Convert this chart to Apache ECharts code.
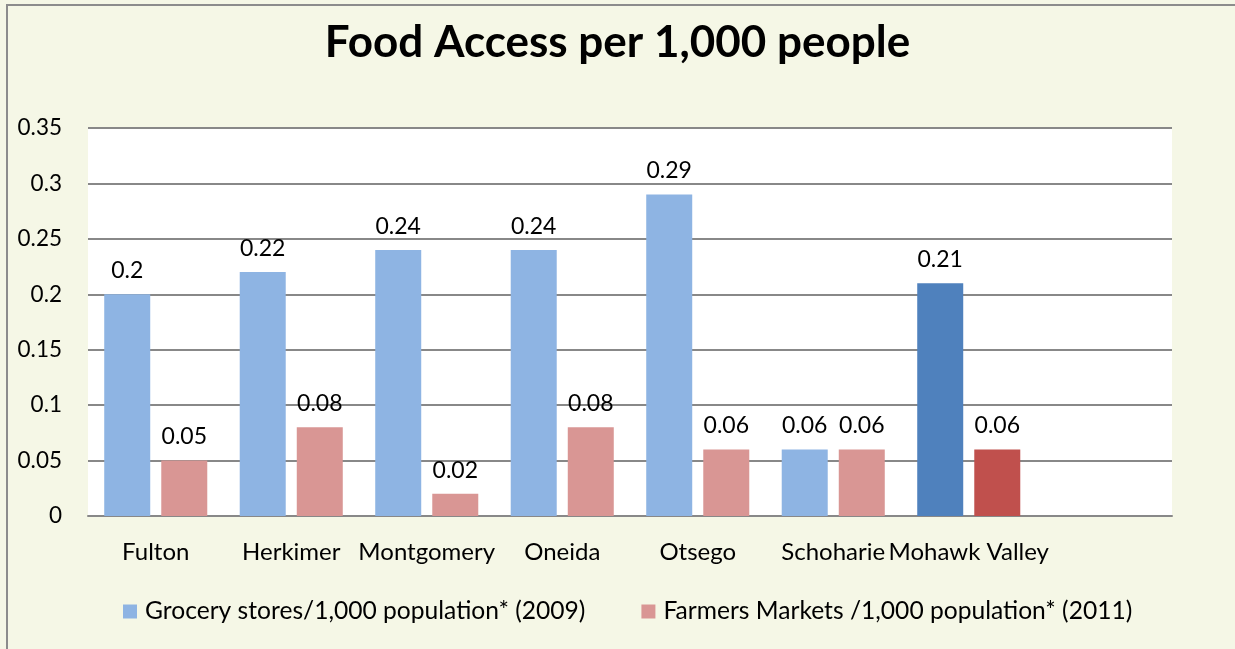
<!DOCTYPE html>
<html><head><meta charset="utf-8">
<script src="https://cdn.jsdelivr.net/npm/echarts@6/dist/echarts.min.js"></script>
<style>html,body{margin:0;padding:0;background:#F5F7E6;}#c{width:1235px;height:649px;}</style>
</head><body><div id="c"></div>
<script>
const categories = ['Fulton','Herkimer','Montgomery','Oneida','Otsego','Schoharie','Mohawk Valley',''];
const grocery = [0.2,0.22,0.24,0.24,0.29,0.06,0.21,null];
const farmers = [0.05,0.08,0.02,0.08,0.06,0.06,0.06,null];
const seriesNames = ['Grocery stores/1,000 population* (2009)','Farmers Markets /1,000 population* (2011)'];
const titleText = 'Food Access per 1,000 people';

const FONT = 'Lato';
const lightBlue = '#8EB4E3', darkBlue = '#4F81BD', pink = '#D99694', red = '#C0504D';
function colored(arr, highlight){
  return arr.map((v,i)=> v==null ? null : (categories[i]==='Mohawk Valley' ? {value:v, itemStyle:{color:highlight}} : v));
}
const chart = echarts.init(document.getElementById('c'), null, {renderer:'canvas'});
chart.setOption({
  backgroundColor:'#F5F7E6',
  animation:false,
  textStyle:{fontFamily:FONT},
  title:{text:titleText,left:'center',top:16,textStyle:{fontFamily:FONT,fontWeight:'bold',fontSize:44,color:'#000'}},
  graphic:[{type:'rect',shape:{x:7,y:5,width:1400,height:800},style:{fill:'none',stroke:'#8c8c8c',lineWidth:2},silent:true}],
  legend:{bottom:20,left:118,itemWidth:14,itemHeight:14,itemGap:56,icon:'rect',
    textStyle:{fontFamily:FONT,fontSize:24.6,color:'#000',padding:[0,0,0,3]}},
  grid:{left:88,right:63,top:128,bottom:133,backgroundColor:'#fff',show:true,borderWidth:0},
  xAxis:{type:'category',data:categories,
    axisLine:{lineStyle:{color:'#888',width:2}},axisTick:{show:false},
    axisLabel:{fontFamily:FONT,fontSize:24,color:'#000',margin:24,interval:0}},
  yAxis:{type:'value',min:0,max:0.35,interval:0.05,
    axisLine:{show:false},axisTick:{show:false},
    splitLine:{lineStyle:{color:'#888',width:2}},
    axisLabel:{fontFamily:FONT,fontSize:22.5,color:'#000',margin:26}},
  series:[
    {name:seriesNames[0],type:'bar',data:colored(grocery,darkBlue),itemStyle:{color:lightBlue},
     barWidth:46,barGap:'24%',
     label:{show:true,position:'top',distance:12,fontFamily:FONT,fontSize:23,color:'#000'}},
    {name:seriesNames[1],type:'bar',data:colored(farmers,red),itemStyle:{color:pink},
     barWidth:46,
     label:{show:true,position:'top',distance:12,fontFamily:FONT,fontSize:23,color:'#000'}}
  ]
});
</script></body></html>
